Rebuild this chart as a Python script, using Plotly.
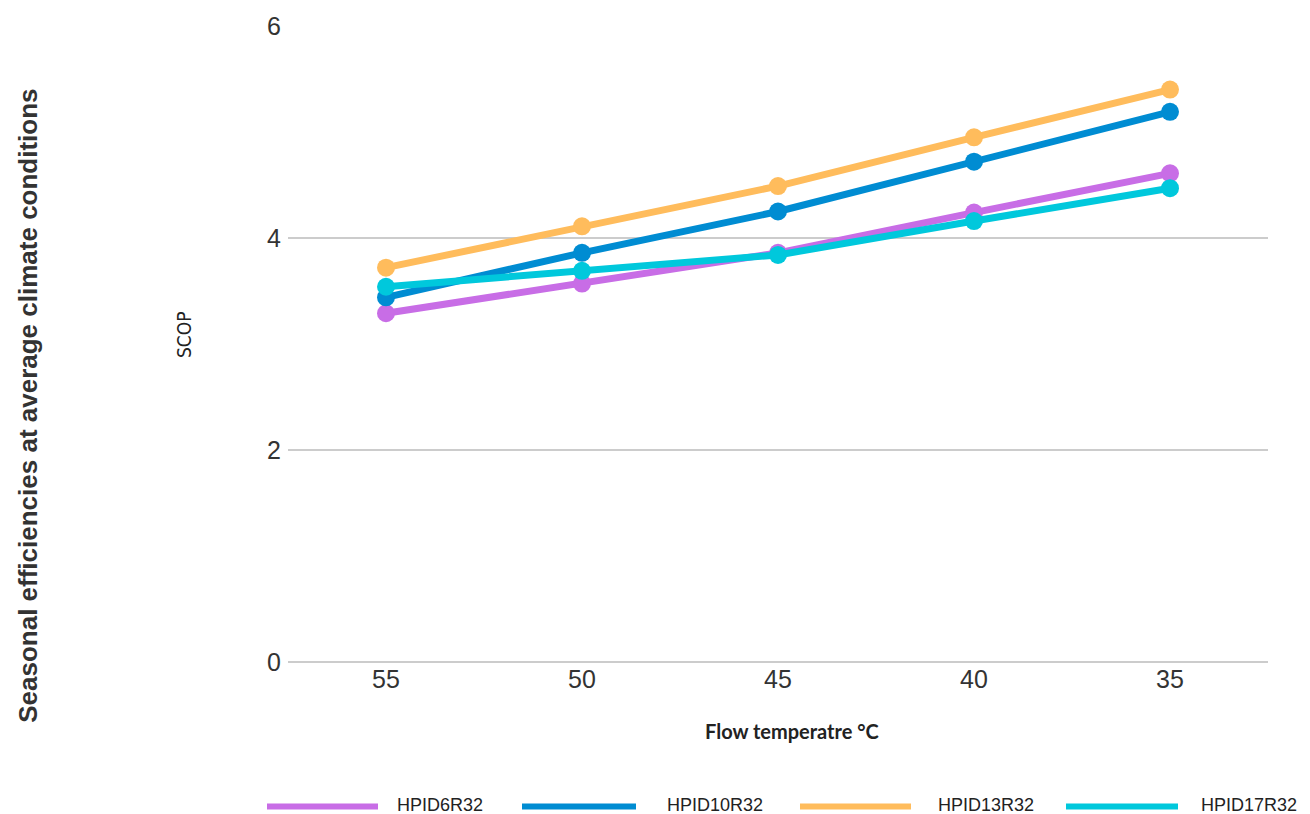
import plotly.graph_objects as go

categories = ["55", "50", "45", "40", "35"]
series_names = ["HPID6R32", "HPID10R32", "HPID13R32", "HPID17R32"]
hpid6 = [3.29, 3.57, 3.86, 4.24, 4.61]
hpid10 = [3.44, 3.86, 4.25, 4.72, 5.19]
hpid13 = [3.72, 4.11, 4.49, 4.95, 5.40]
hpid17 = [3.54, 3.69, 3.84, 4.16, 4.47]
y_ticks = [0, 2, 4, 6]
colors = ["#C86DE6", "#008CD2", "#FFBC5C", "#00C8DC"]

W, H = 1310, 814
L, R, T, B = 288, 42, 24, 152

fig = go.Figure()
for name, vals, c in zip(series_names, [hpid6, hpid10, hpid13, hpid17], colors):
    fig.add_trace(go.Scatter(
        x=categories, y=vals, name=name, mode="lines+markers",
        line=dict(color=c, width=7), marker=dict(color=c, size=18),
        showlegend=False, cliponaxis=False,
    ))

def px_x(p):
    return (p - L) / (W - L - R)

def px_y(p):
    return (H - B - p) / (H - T - B)

legend_lines = [(267, 378, 395), (522, 636, 665), (800, 911, 936), (1066, 1178, 1199)]
for (x0, x1, tx), name, c in zip(legend_lines, series_names, colors):
    fig.add_shape(type="line", xref="paper", yref="paper",
                  x0=px_x(x0), x1=px_x(x1), y0=px_y(807), y1=px_y(807),
                  line=dict(color=c, width=6))
    fig.add_annotation(xref="paper", yref="paper", x=px_x(tx), y=px_y(805),
                       text=name, showarrow=False, xanchor="left", yanchor="middle",
                       font=dict(family="Liberation Sans, Arial", size=18, color="#222"))

fig.add_annotation(xref="paper", yref="paper", x=px_x(28), y=px_y(405),
                   text="<b>Seasonal efficiencies at average climate conditions</b>",
                   textangle=-90, showarrow=False, xanchor="center", yanchor="middle",
                   font=dict(family="Liberation Sans, Arial", size=26, color="#333"))
fig.add_annotation(xref="paper", yref="paper", x=px_x(184), y=px_y(334),
                   text="SCOP", textangle=-90, showarrow=False,
                   xanchor="center", yanchor="middle",
                   font=dict(family="Liberation Sans Narrow, Arial Narrow, DejaVu Sans Condensed", size=19, color="#222"))
fig.add_annotation(xref="paper", yref="paper", x=px_x(792), y=px_y(731),
                   text="<b>Flow temperatre °C</b>", showarrow=False,
                   xanchor="center", yanchor="middle",
                   font=dict(family="Lato, Open Sans", size=20, color="#222"))

fig.update_layout(
    width=W, height=H,
    margin=dict(l=L, r=R, t=T, b=B),
    plot_bgcolor="white", paper_bgcolor="white",
    showlegend=False,
    font=dict(family="Liberation Sans, Arial", size=25, color="#333"),
)
fig.update_xaxes(type="category", categoryorder="array", categoryarray=categories,
                 range=[-0.5, 4.5],
                 showgrid=False, showline=False, zeroline=False,
                 tickfont=dict(size=25, color="#333"), ticks="", ticklen=0)
fig.update_yaxes(range=[0, 6], tickvals=y_ticks, showgrid=True, gridcolor="#CCCCCC",
                 gridwidth=1.5, zeroline=True, zerolinecolor="#CCCCCC", zerolinewidth=1.5,
                 showline=False, tickfont=dict(size=25, color="#333"), ticks="",
                 ticklabelstandoff=6)

fig.write_html("out.html", config={"displayModeBar": False},
               post_script="document.body.style.margin='0';")
